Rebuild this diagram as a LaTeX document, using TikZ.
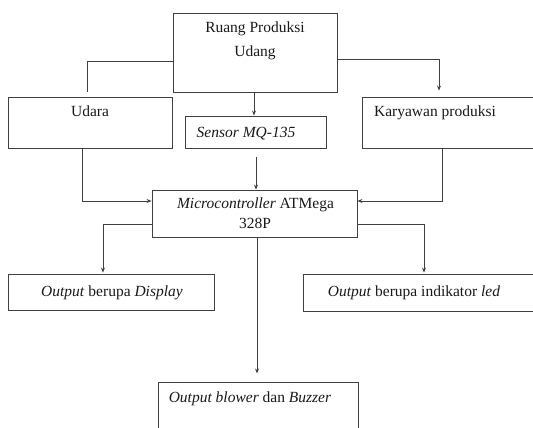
\documentclass[tikz,border=0pt]{standalone}
\usepackage{fontspec}
\setmainfont{Liberation Serif}
\usetikzlibrary{arrows.meta}
\begin{document}
\begin{tikzpicture}[x=1pt,y=-1pt,
  box/.style={draw=black!75,line width=0.9pt,inner sep=0pt,rectangle},
  lbl/.style={inner sep=0pt,anchor=base,font=\fontsize{15.5}{18}\selectfont,text=black!90},
  con/.style={draw=black!75,line width=0.9pt},
  arr/.style={con,-{Stealth[length=5pt,width=4pt]}}]
\useasboundingbox (0,0) rectangle (533,428);
\clip (0,0) rectangle (533,428);
% boxes
\node[box,minimum width=164pt,minimum height=79pt] (top) at (255,52.5) {};
\node[box,minimum width=164pt,minimum height=51pt] (udara) at (90,122.5) {};
\node[box,minimum width=178pt,minimum height=51pt] (kary) at (451,122.5) {};
\node[box,minimum width=141pt,minimum height=32pt] (sensor) at (255.5,132) {};
\node[box,minimum width=205pt,minimum height=47pt] (micro) at (254.5,213.5) {};
\node[box,minimum width=206pt,minimum height=36pt] (disp) at (111,292) {};
\node[box,minimum width=237pt,minimum height=37pt] (led) at (421.5,292.5) {};
\node[box,minimum width=200pt,minimum height=58pt] (blow) at (258,411) {};
% texts
\node[lbl] (t1) at (255,33) {Ruang Produksi};
\node[lbl] (t2) at (255,57) {Udang};
\node[lbl] (tu) at (90,117) {Udara};
\node[lbl] (ts) at (246,137) {\textit{Sensor MQ-135}};
\node[lbl] (tk) at (435,117) {Karyawan produksi};
\node[lbl] (tm1) at (255.5,208) {\textit{Microcontroller} ATMega};
\node[lbl] (tm2) at (255,228) {328P};
\node[lbl] (td) at (112,296) {\textit{Output} berupa \textit{Display}};
\node[lbl] (tl) at (414,296) {\textit{Output} berupa indikator \textit{led}};
\node[lbl] (tb) at (250,402) {\textit{Output blower} dan \textit{Buzzer}};
% connectors
\draw[con] ([yshift=-8.5pt]top.west) -| ([xshift=-3pt,yshift=5pt]udara.north);
\draw[arr] ([yshift=-6.5pt]top.east) -| ([xshift=-12pt,yshift=6pt]kary.north);
\draw[arr] ([xshift=-1pt]top.south) -- ([xshift=-1.5pt]sensor.north);
\coordinate (sb) at (256,157);
\draw[arr] (sb) -- (sb |- micro.north);
\draw[arr] ([xshift=-8pt]udara.south) |- ([yshift=12.5pt]micro.west);
\draw[arr] ([xshift=-9pt]kary.south) |- ([yshift=12.5pt]micro.east);
\draw[arr] ([yshift=-10.5pt]micro.west) -| ([xshift=-8pt,yshift=1pt]disp.north);
\draw[arr] ([yshift=-10.5pt]micro.east) -| ([xshift=2.5pt,yshift=1pt]led.north);
\draw[arr] ([xshift=2.5pt]micro.south) -- ++(0,136);
\end{tikzpicture}
\end{document}
